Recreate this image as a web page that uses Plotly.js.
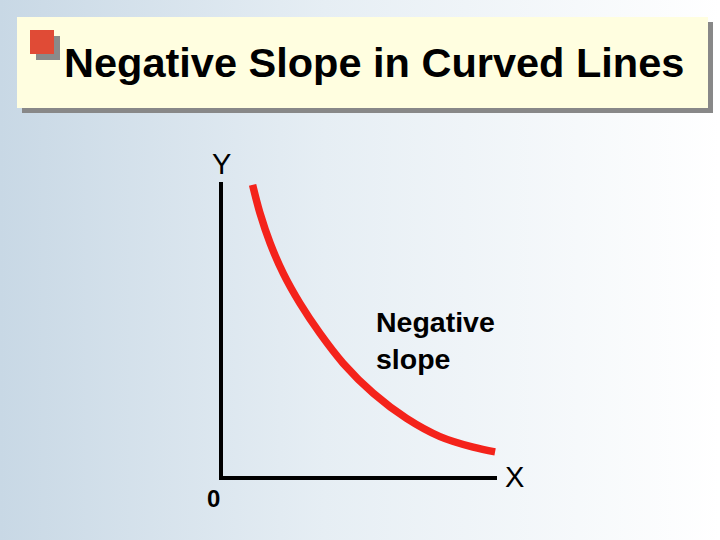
<!DOCTYPE html>
<html>
<head>
<meta charset="utf-8">
<script src="https://cdn.plot.ly/plotly-3.0.1.min.js"></script>
<style>
  html, body { margin: 0; padding: 0; }
  #chart { width: 720px; height: 540px;
    background: linear-gradient(to right, #c8d8e5 0%, #e6eef4 45%, #ffffff 100%); }
</style>
</head>
<body>
<div id="chart"></div>
<script>
// Curve data, axis units 0..10
const curveX = [1.08, 1.35, 1.72, 2.20, 2.81, 3.54, 4.39, 5.49, 6.70, 7.92, 9.13, 9.93];
const curveY = [9.90, 8.94, 7.92, 6.89, 5.87, 4.85, 3.83, 2.81, 1.96, 1.34, 0.98, 0.82];

const titleText = "Negative Slope in Curved Lines";
const yLabel = "Y";
const xLabel = "X";
const originLabel = "0";
const curveLabel = ["Negative", "slope"];

const W = 720, H = 540;
const px = v => v / W;
const py = v => 1 - v / H;

const trace = {
  x: curveX, y: curveY, type: 'scatter', mode: 'lines',
  line: { color: '#f4231b', width: 7.5, shape: 'spline', smoothing: 1 },
  hoverinfo: 'skip', showlegend: false
};

const font = 'Liberation Sans, Arial, Helvetica, sans-serif';

const layout = {
  width: W, height: H,
  margin: { l: 0, r: 0, t: 0, b: 0, pad: 0 },
  paper_bgcolor: 'rgba(0,0,0,0)',
  plot_bgcolor: 'rgba(0,0,0,0)',
  showlegend: false,
  xaxis: {
    domain: [px(223), px(497)], range: [0, 10],
    showline: true, linecolor: '#000', linewidth: 4,
    showgrid: false, zeroline: false, showticklabels: false, ticks: '',
    fixedrange: true
  },
  yaxis: {
    domain: [py(476), py(182)], range: [0, 10],
    showline: true, linecolor: '#000', linewidth: 4,
    showgrid: false, zeroline: false, showticklabels: false, ticks: '',
    fixedrange: true
  },
  shapes: [
    // title box shadow
    { type: 'rect', xref: 'paper', yref: 'paper', x0: px(22), x1: px(713), y0: py(22), y1: py(113),
      fillcolor: '#888888', line: { width: 0 }, layer: 'below' },
    // title box
    { type: 'rect', xref: 'paper', yref: 'paper', x0: px(17), x1: px(708), y0: py(17), y1: py(108),
      fillcolor: '#fffee0', line: { width: 0 }, layer: 'below' },
    // bullet shadow
    { type: 'rect', xref: 'paper', yref: 'paper', x0: px(36), x1: px(60), y0: py(36), y1: py(60),
      fillcolor: '#8a8a8a', line: { width: 0 }, layer: 'below' },
    // bullet
    { type: 'rect', xref: 'paper', yref: 'paper', x0: px(30), x1: px(54), y0: py(30), y1: py(54),
      fillcolor: '#e04b36', line: { width: 0 }, layer: 'below' }
  ],
  annotations: [
    { text: '<b>' + titleText + '</b>', xref: 'paper', yref: 'paper', x: px(62), y: py(62),
      xanchor: 'left', yanchor: 'middle', showarrow: false,
      font: { family: font, size: 41.5, color: '#000' } },
    { text: yLabel, xref: 'paper', yref: 'paper', x: px(221), y: py(164),
      xanchor: 'center', yanchor: 'middle', showarrow: false,
      font: { family: font, size: 29, color: '#000' } },
    { text: xLabel, xref: 'paper', yref: 'paper', x: px(514), y: py(477),
      xanchor: 'center', yanchor: 'middle', showarrow: false,
      font: { family: font, size: 29, color: '#000' } },
    { text: '<b>' + originLabel + '</b>', xref: 'paper', yref: 'paper', x: px(213), y: py(498.5),
      xanchor: 'center', yanchor: 'middle', showarrow: false,
      font: { family: font, size: 24, color: '#000' } },
    { text: '<b>' + curveLabel.join('<br>') + '</b>', xref: 'paper', yref: 'paper', x: px(374), y: py(340),
      xanchor: 'left', yanchor: 'middle', align: 'left', showarrow: false,
      font: { family: font, size: 28.5, color: '#000' } }
  ]
};

Plotly.newPlot('chart', [trace], layout, { displayModeBar: false, staticPlot: true });
</script>
</body>
</html>
